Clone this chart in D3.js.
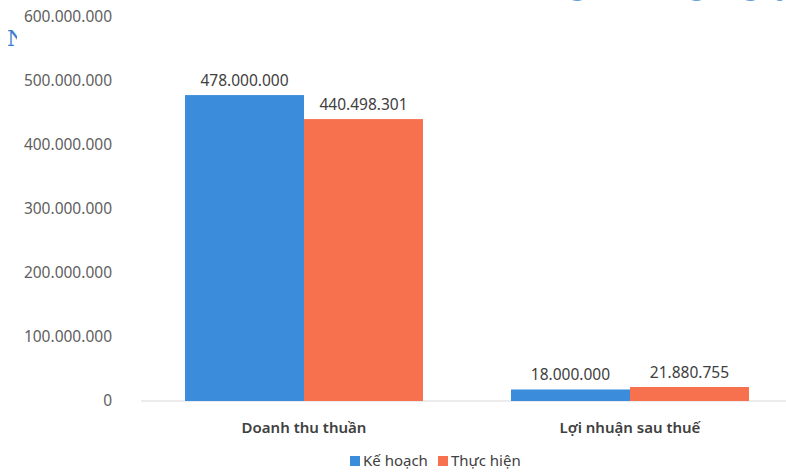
<!DOCTYPE html>
<html>
<head>
<meta charset="utf-8">
<script src="https://cdn.jsdelivr.net/npm/d3@7"></script>
<style>
  body { margin: 0; background: #fff; }
  svg { display: block; font-family: "Noto Sans", "Open Sans", sans-serif; }
</style>
</head>
<body>
<div id="chart"></div>
<script>
const categories = ["Doanh thu thuần", "Lợi nhuận sau thuế"];
const seriesNames = ["Kế hoạch", "Thực hiện"];
const keHoach = [478000000, 18000000];
const thucHien = [440498301, 21880755];
const yTicks = [0, 100000000, 200000000, 300000000, 400000000, 500000000, 600000000];

const colors = { "Kế hoạch": "#3b8ddb", "Thực hiện": "#f7714f" };

const width = 786, height = 476;
const svg = d3.select("#chart").append("svg")
    .attr("width", width)
    .attr("height", height);

const fmt = v => d3.format(",")(v).replace(/,/g, ".");

const x = d3.scaleBand()
    .domain(categories)
    .range([141, 793])
    .paddingInner(0.27)
    .paddingOuter(0.135);

const xs = d3.scaleBand()
    .domain(seriesNames)
    .range([0, x.bandwidth()]);

const y = d3.scaleLinear()
    .domain([0, 600000000])
    .range([401, 17]);

// cropped title remnant at the top edge (only descenders visible)
svg.append("text")
    .attr("x", 468)
    .attr("y", -4)
    .attr("fill", "#6a9edb")
    .attr("font-family", "DejaVu Serif, serif")
    .attr("font-size", 24)
    .attr("font-weight", "bold")
    .text("(ĐVT: nghìn đồng) ngày ký hợp");

// cropped blue letter at left edge
svg.append("clipPath").attr("id", "leftclip")
    .append("rect").attr("x", 0).attr("y", 0).attr("width", 17).attr("height", 60);
svg.append("text")
    .attr("clip-path", "url(#leftclip)")
    .attr("x", 7)
    .attr("y", 46)
    .attr("fill", "#3b7fd0")
    .attr("font-family", "DejaVu Serif, serif")
    .attr("font-size", 22)
    .text("N");

// y axis labels
svg.append("g")
    .attr("class", "y axis")
    .attr("transform", "translate(112,0)")
    .call(d3.axisLeft(y).tickValues(yTicks).tickSize(0).tickPadding(0).tickFormat(fmt))
    .call(g => g.select(".domain").remove())
    .selectAll("text")
    .attr("font-size", 15.5)
    .attr("font-family", "Noto Sans, sans-serif")
    .attr("fill", "#5f5f5f");

// baseline
svg.append("line")
    .attr("x1", 141).attr("x2", 786)
    .attr("y1", y(0)).attr("y2", y(0))
    .attr("stroke", "#d9d9d9")
    .attr("stroke-width", 1);

const rows = categories.map((c, i) => ({
    cat: c,
    values: [
        { key: "Kế hoạch", value: keHoach[i] },
        { key: "Thực hiện", value: thucHien[i] }
    ]
}));

const groups = svg.selectAll("g.group")
    .data(rows)
    .enter()
    .append("g")
    .attr("class", "group")
    .attr("transform", d => `translate(${x(d.cat)},0)`);

groups.selectAll("rect")
    .data(d => d.values)
    .enter()
    .append("rect")
    .attr("x", d => xs(d.key))
    .attr("width", xs.bandwidth())
    .attr("y", d => y(d.value))
    .attr("height", d => y(0) - y(d.value))
    .attr("fill", d => colors[d.key]);

groups.selectAll("text.label")
    .data(d => d.values)
    .enter()
    .append("text")
    .attr("class", "label")
    .attr("x", d => xs(d.key) + xs.bandwidth() / 2)
    .attr("y", d => y(d.value) - 9)
    .attr("text-anchor", "middle")
    .attr("font-size", 15.5)
    .attr("fill", "#404040")
    .text(d => fmt(d.value));

// category labels
svg.append("g")
    .selectAll("text")
    .data(categories)
    .enter()
    .append("text")
    .attr("x", d => x(d) + x.bandwidth() / 2)
    .attr("y", 433)
    .attr("text-anchor", "middle")
    .attr("font-size", 15)
    .attr("font-weight", "600")
    .attr("fill", "#404040")
    .text(d => d);

// legend
const legend = svg.append("g").attr("transform", "translate(350,466)");
const legendX = [0, 88];
seriesNames.forEach((s, i) => {
    const g = legend.append("g").attr("transform", `translate(${legendX[i]},0)`);
    g.append("rect")
        .attr("x", 0).attr("y", -10)
        .attr("width", 10).attr("height", 10)
        .attr("fill", colors[s]);
    g.append("text")
        .attr("x", 13).attr("y", 0)
        .attr("font-size", 15)
        .attr("fill", "#404040")
        .text(s);
});
</script>
</body>
</html>
